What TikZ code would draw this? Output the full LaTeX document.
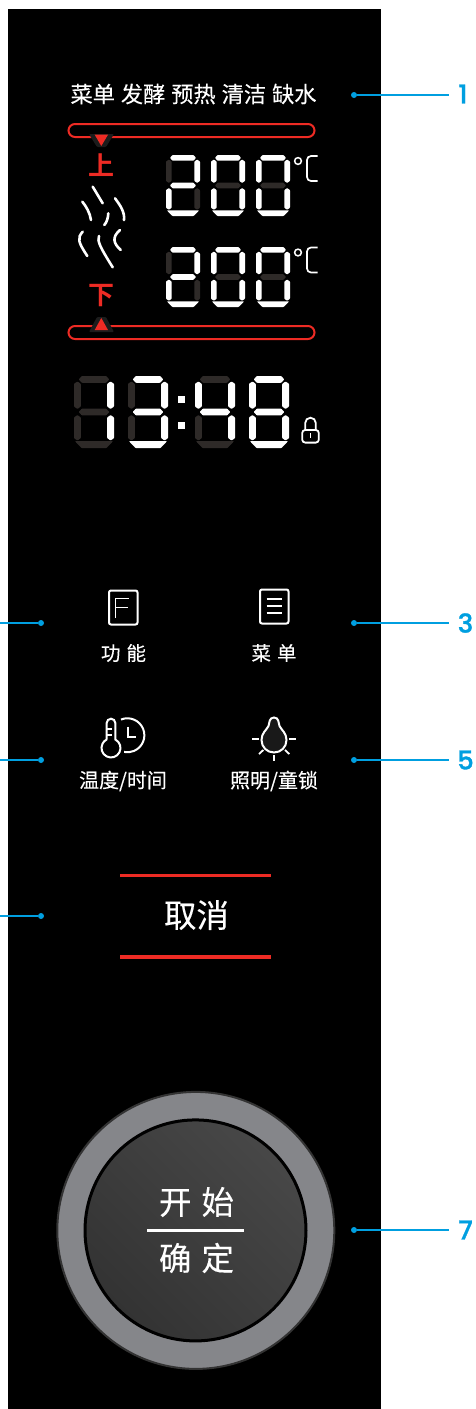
\documentclass[tikz,border=0pt]{standalone}
\usepackage{fontspec}
\setmainfont[FakeBold=0.25]{Noto Sans CJK SC}
\newfontfamily\numf[FakeBold=1.2]{Poppins Medium}
\newfontfamily\redf{Noto Sans CJK SC Bold}
\definecolor{leader}{HTML}{009FE0}
\definecolor{lcdred}{HTML}{EE2B24}
\definecolor{segdim}{HTML}{2E2A28}
\definecolor{ringgray}{HTML}{85868A}
\definecolor{markerbg}{HTML}{1C1C1C}
\tikzset{
  x=1pt,y=-1pt,
  seg1/.style={fill=white,rounded corners=0.6pt},
  seg0/.style={fill=segdim,rounded corners=0.6pt},
  leadline/.style={draw=leader,line width=1.5pt},
  leaddot/.style={circle,fill=leader,inner sep=0pt,minimum size=6pt},
  numlabel/.style={font=\numf\fontsize{26}{26}\selectfont,text=leader,inner sep=0pt},
  cjk/.style={text=white,inner sep=0pt,align=center},
  icon/.style={draw=white,line width=2pt},
  thinicon/.style={draw=white,line width=1.8pt},
  redbar/.style={draw=lcdred,line width=2pt,rounded corners=6.5pt},
  cancelbar/.style={draw=lcdred,line width=3.5pt},
  steam/.style={draw=white,line width=2.6pt,line cap=round},
}
% #1 x, #2 y, then segments: top, upper-left, upper-right, middle, lower-left, lower-right, bottom
\newcommand{\vseg}[4]{% style bit, x, y0, y1
  \fill[seg#1] ({#2+\T/2},{#3}) -- ({#2+\T},{#3+\T*0.35}) -- ({#2+\T},{#4-\T*0.35}) -- ({#2+\T/2},{#4}) -- ({#2},{#4-\T*0.35}) -- ({#2},{#3+\T*0.35}) -- cycle;
}
\newcommand{\hseg}[4]{% style bit, x0, x1, y centre
  \fill[seg#1] ({#2},{#4}) -- ({#2+\T*0.45},{#4-\T/2}) -- ({#3-\T*0.45},{#4-\T/2}) -- ({#3},{#4}) -- ({#3-\T*0.45},{#4+\T/2}) -- ({#2+\T*0.45},{#4+\T/2}) -- cycle;
}
\newcommand{\sevseg}[9]{%
  \def\X{#1}\def\Y{#2}%
  \hseg{#3}{\X+\T*0.7}{\X+\W-\T*0.7}{\Y+\T*0.5}
  \vseg{#4}{\X}{\Y+\T*0.8}{\Y+\H/2-\T*0.45}
  \vseg{#5}{\X+\W-\T}{\Y+\T*0.8}{\Y+\H/2-\T*0.45}
  \hseg{#6}{\X+\T*0.7}{\X+\W-\T*0.7}{\Y+\H/2}
  \vseg{#7}{\X}{\Y+\H/2+\T*0.45}{\Y+\H-\T*1.1}
  \vseg{#8}{\X+\W-\T}{\Y+\H/2+\T*0.45}{\Y+\H-\T*1.1}
  \fill[seg#9] ({\X+\T*0.15},{\Y+\H-\T}) -- ({\X+\W-\T*0.15},{\Y+\H-\T}) -- ({\X+\W-\T*1.1},{\Y+\H}) -- ({\X+\T*1.1},{\Y+\H}) -- cycle;
}
\newcommand{\degC}[1]{%
  \draw[line width=1.5pt,white] (298,{#1+5}) circle (3.4);
  \draw[line width=1.7pt,white,rounded corners=4pt] (317.5,{#1}) -- (307,{#1}) -- (307,{#1+25}) -- (317.5,{#1+25});
}
\begin{document}
\begin{tikzpicture}
\useasboundingbox (0,0) rectangle (475,1409);
\fill[white] (0,0) rectangle (475,1409);
\fill[black] (8,9) rectangle (381,1409);

% status words
\node[cjk,font=\fontsize{22.2}{22}\selectfont] (status) at (193.5,94) {菜单\hspace{6pt}发酵\hspace{6pt}预热\hspace{6pt}清洁\hspace{6pt}缺水};

% red bars and markers
\draw[redbar] (68.5,124) rectangle (314.5,137);
\draw[redbar] (68.5,326) rectangle (314.5,339);
\fill[markerbg,rounded corners=1pt] (89,134) -- (114,134) -- (106,147) -- (97,147) -- cycle;
\fill[lcdred] (94.7,134.7) -- (108,134.7) -- (101.3,146) -- cycle;
\fill[markerbg,rounded corners=1pt] (97,317) -- (106,317) -- (114,332) -- (89,332) -- cycle;
\fill[lcdred] (101.3,318) -- (108,330) -- (94.7,330) -- cycle;
\node[inner sep=0pt,text=lcdred,font=\redf\fontsize{26}{26}\selectfont] (up) at (101.5,165) {上};
\node[inner sep=0pt,text=lcdred,font=\redf\fontsize{26}{26}\selectfont] (down) at (101.5,296) {下};

% steam
\draw[steam] (92.7,186.7) -- (102.7,203.3);
\draw[steam] (82.3,201.7) .. controls (86,206) and (90,213) .. (91,220);
\draw[steam] (115,198.3) .. controls (120,205) and (125,212) .. (124,220);
\draw[steam] (108.3,213.3) .. controls (108,218) and (107,222) .. (104.3,225);
\draw[steam] (82.7,231.7) .. controls (77,238) and (78,242) .. (87.3,256);
\draw[steam] (99,236) .. controls (97,241) and (100,247) .. (112.7,267.3);
\draw[steam] (120,230) .. controls (112,237) and (113,243) .. (120.7,250);

% temperature digits
\def\W{34}\def\H{61}\def\T{5.7}
\sevseg{166}{155}{1}{0}{1}{1}{1}{0}{1}
\sevseg{211}{155}{1}{1}{1}{0}{1}{1}{1}
\sevseg{256}{155}{1}{1}{1}{0}{1}{1}{1}
\def\H{60}
\sevseg{166}{247}{1}{0}{1}{1}{1}{0}{1}
\sevseg{211}{247}{1}{1}{1}{0}{1}{1}{1}
\sevseg{256}{247}{1}{1}{1}{0}{1}{1}{1}
\degC{156}
\degC{247.5}

% clock digits
\def\W{40}\def\H{72}\def\T{6.8}
\sevseg{74}{376}{0}{0}{1}{0}{0}{1}{0}
\sevseg{128}{376}{1}{0}{1}{1}{0}{1}{1}
\sevseg{195}{376}{0}{1}{1}{1}{0}{1}{0}
\sevseg{249}{376}{1}{1}{1}{1}{1}{1}{1}
\fill[white] (178,396) rectangle (184.5,402.5);
\fill[white] (178,422) rectangle (184.5,428.5);

% lock
\draw[line width=1.8pt,white,rounded corners=3pt] (302.2,430) rectangle (318.8,442.6);
\draw[line width=1.8pt,white] (305.2,430) -- (305.2,423) arc[start angle=180,end angle=360,radius=5.3] -- (315.8,430);
\fill[white] (309.5,433.2) rectangle (311.3,437.5);

% function icon
\draw[icon,rounded corners=2pt] (109,590.5) rectangle (137.5,624.5);
\draw[thinicon] (115.5,618) -- (115.5,598.5) -- (129,598.5);
\draw[thinicon] (115.5,607.5) -- (128,607.5);
\node[cjk,font=\fontsize{19.5}{19}\selectfont] (func) at (123.5,653) {功\hspace{6pt}能};

% menu icon
\draw[icon,rounded corners=2pt] (260,589.5) rectangle (288.5,623.5);
\draw[thinicon] (266.7,599) -- (281.7,599);
\draw[thinicon] (266.7,606) -- (281.7,606);
\draw[thinicon] (266.7,613) -- (281.7,613);
\node[cjk,font=\fontsize{19.5}{19}\selectfont] (menu) at (274,653) {菜\hspace{6pt}单};

% thermometer and clock icon
\draw[icon] (106.7,739.5) -- (106.7,723) arc[start angle=180,end angle=360,radius=4.3] -- (115.3,739.5) arc[start angle=-63,end angle=243,radius=9.5];
\draw[thinicon] (107,729) -- (111.5,729);
\draw[thinicon] (107,735) -- (111.5,735);
\draw[icon] (121,719.5) arc[start angle=-112,end angle=101,radius=17];
\draw[thinicon] (128.3,726.5) -- (128.3,737) -- (135.5,737);
\node[cjk,font=\fontsize{20}{20}\selectfont] (temp) at (123,781) {温度/时间};

% bulb icon
\draw[icon,fill=black!90] (274,717.5) .. controls (269,717.5) and (269.5,723) .. (268.5,726) .. controls (266.5,730) and (261.5,733) .. (261.5,740) .. controls (261.5,747) and (267,752.5) .. (274,752.5) .. controls (281,752.5) and (286.5,747) .. (286.5,740) .. controls (286.5,733) and (281.5,730) .. (279.5,726) .. controls (278.5,723) and (279,717.5) .. (274,717.5) -- cycle;
\draw[thinicon] (252.3,739) -- (259,739);
\draw[thinicon] (289.3,739) -- (296,739);
\draw[thinicon] (274,755) -- (274,761);
\draw[thinicon] (259,754) -- (263.3,750);
\draw[thinicon] (289.3,754) -- (285,750);
\node[cjk,font=\fontsize{20}{20}\selectfont] (light) at (274,781) {照明/童锁};

% cancel
\draw[cancelbar] (120,875.5) -- (271,875.5);
\draw[cancelbar] (120,957) -- (271,957);
\node[cjk,font=\fontsize{32.5}{33}\selectfont] (cancel) at (196.5,915) {取消};

% start dial
\node[circle,draw=black!80,line width=2pt,fill=ringgray,minimum size=277pt,inner sep=0pt] (ring) at (195.8,1230.4) {};
\fill[left color=black!72,right color=black!80,shading angle=-45,draw=black,line width=3pt] (195.5,1230.4) circle (110.5);
\node[cjk,font=\fontsize{32.5}{33}\selectfont] (start) at (196.5,1202) {开\hspace{10pt}始};
\node[cjk,font=\fontsize{32.5}{33}\selectfont] (ok) at (196.5,1258) {确\hspace{10pt}定};
\coordinate (divl) at (147.3,1230.3);
\coordinate (divr) at (244,1230.3);
\draw[white,line width=2.6pt] (divl) -- (divr);

% leaders
\node[leaddot] (d1) at (354,95) {};
\node[leaddot] (d3) at (354,623) {};
\node[leaddot] (d5) at (354,760) {};
\node[leaddot] (d7) at (354,1230) {};
\node[leaddot] (d2) at (41,623) {};
\node[leaddot] (d4) at (41,760) {};
\node[leaddot] (d6) at (41,916) {};
\coordinate (e1) at (449,95);
\coordinate (e3) at (449,623);
\coordinate (e5) at (449,760);
\coordinate (e7) at (449,1230);
\coordinate (e2) at (0,623);
\coordinate (e4) at (0,760);
\coordinate (e6) at (0,916);
\foreach \a/\b in {d1/e1,d3/e3,d5/e5,d7/e7,d2/e2,d4/e4,d6/e6}{\draw[leadline] (\a) -- (\b);}
\node[numlabel] (n1) at (463,94) {1};
\node[numlabel] (n3) at (465.5,623) {3};
\node[numlabel] (n5) at (465.5,760) {5};
\node[numlabel] (n7) at (465.5,1230) {7};
\end{tikzpicture}
\end{document}
